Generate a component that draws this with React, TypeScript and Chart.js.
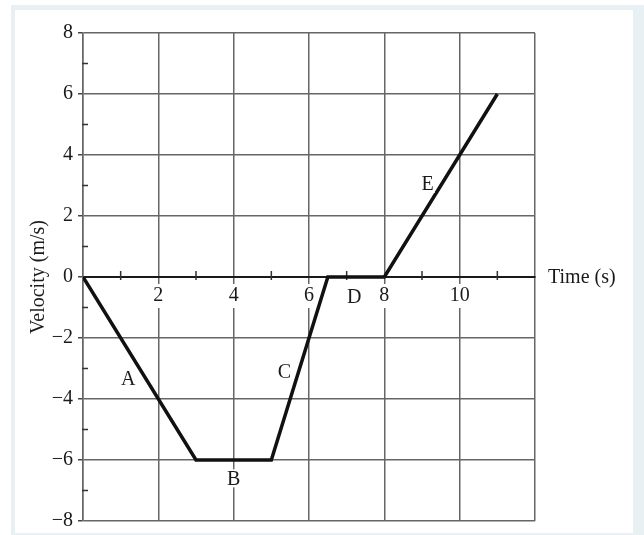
import React, { useEffect, useRef } from 'react';
import { Chart, registerables } from 'chart.js';

Chart.register(...registerables);

// Data
const times = [0, 3, 5, 6.5, 8, 11];
const velocities = [0, -6, -6, 0, 0, 6];

// Axis ranges / tick labels
const xMin = 0;
const xMax = 12;
const yMin = -8;
const yMax = 8;
const majorStep = 2;
const xAxisTitle = 'Time (s)';
const yAxisTitle = 'Velocity (m/s)';

// Segment annotations (data coordinates)
const segmentNames = ['A', 'B', 'C', 'D', 'E'];
const segmentLabelX = [1.2, 4.0, 5.35, 7.2, 9.15];
const segmentLabelY = [-3.35, -6.6, -3.1, -0.65, 3.05];

const FONT = '"Liberation Serif", "Times New Roman", serif';
const GRID = '#666666';

const annotatePlugin = {
  id: 'annotate',
  beforeDatasetsDraw(chart: any) {
    const { ctx, chartArea } = chart;
    const x = chart.scales.x;
    const y = chart.scales.y;
    const y0 = y.getPixelForValue(0);
    ctx.save();
    ctx.strokeStyle = '#333';
    ctx.lineWidth = 1.5;
    ctx.beginPath();
    for (let v = xMin + 1; v < xMax; v += majorStep) {
      const px = x.getPixelForValue(v);
      ctx.moveTo(px, y0 - 6);
      ctx.lineTo(px, y0 + 3);
    }
    for (let v = yMin + 1; v < yMax; v += majorStep) {
      const py = y.getPixelForValue(v);
      ctx.moveTo(chartArea.left - 1, py);
      ctx.lineTo(chartArea.left + 5, py);
    }
    ctx.stroke();
    ctx.restore();
  },
  afterDatasetsDraw(chart: any) {
    const { ctx, chartArea } = chart;
    const x = chart.scales.x;
    const y = chart.scales.y;
    const y0 = y.getPixelForValue(0);
    ctx.save();
    ctx.font = `20px ${FONT}`;
    ctx.textAlign = 'center';
    ctx.textBaseline = 'middle';
    segmentNames.forEach((name, i) => {
      const px = x.getPixelForValue(segmentLabelX[i]);
      const py = y.getPixelForValue(segmentLabelY[i]);
      const w = ctx.measureText(name).width;
      ctx.fillStyle = '#ffffff';
      ctx.fillRect(px - w / 2 - 1, py - 9, w + 2, 18);
      ctx.fillStyle = '#1a1a1a';
      ctx.fillText(name, px, py + 1);
    });
    ctx.textAlign = 'left';
    ctx.fillStyle = '#1a1a1a';
    ctx.fillText(xAxisTitle, chartArea.right + 13, y0 + 1);
    ctx.restore();
  },
};

function VelocityChart() {
  const canvasRef = useRef<HTMLCanvasElement | null>(null);

  useEffect(() => {
    const canvas = canvasRef.current;
    if (!canvas) return;
    const chart = new Chart(canvas, {
      type: 'line',
      data: {
        datasets: [
          {
            data: times.map((t, i) => ({ x: t, y: velocities[i] })),
            borderColor: '#111',
            borderWidth: 3.5,
            pointRadius: 0,
            tension: 0,
            fill: false,
            borderJoinStyle: 'miter',
          },
        ],
      },
      options: {
        responsive: false,
        animation: false,
        layout: { padding: { left: 0, top: 33, right: 109, bottom: 14 } },
        plugins: {
          legend: { display: false },
          tooltip: { enabled: false },
        },
        scales: {
          x: {
            type: 'linear',
            position: { y: 0 },
            min: xMin,
            max: xMax,
            grid: { color: GRID, lineWidth: 1.5, drawTicks: false },
            border: { color: '#1a1a1a', width: 2 },
            ticks: {
              stepSize: majorStep,
              autoSkip: false,
              maxRotation: 0,
              padding: 7,
              color: '#1a1a1a',
              font: { family: FONT, size: 20 },
              callback: (v: any) => (v > xMin && v < xMax ? String(v) : ''),
              showLabelBackdrop: true,
              backdropColor: (c: any) =>
                c.tick && c.tick.value > xMin && c.tick.value < xMax ? '#ffffff' : 'rgba(0,0,0,0)',
              backdropPadding: { top: 0, bottom: 0, left: 2, right: 2 },
            },
          },
          y: {
            type: 'linear',
            position: 'left',
            min: yMin,
            max: yMax,
            afterFit: (s: any) => {
              s.width = 83;
              s.paddingTop = 10;
              s.paddingBottom = 10;
            },
            grid: { color: GRID, lineWidth: 1.5, tickLength: 5, tickColor: '#444' },
            border: { color: GRID, width: 1.5 },
            ticks: {
              stepSize: majorStep,
              autoSkip: false,
              padding: 5,
              color: '#1a1a1a',
              font: { family: FONT, size: 20 },
              callback: (v: any) => (v < 0 ? '\u2212' + Math.abs(v) : String(v)),
            },
            title: {
              display: true,
              text: yAxisTitle,
              color: '#1a1a1a',
              font: { family: FONT, size: 20 },
              padding: { top: 27, bottom: 0 },
            },
          },
        },
      },
      plugins: [annotatePlugin],
    } as any);
    return () => chart.destroy();
  }, []);

  return (
    <canvas
      ref={canvasRef}
      width={644}
      height={535}
      style={{ position: 'absolute', left: 0, top: 0, width: 644, height: 535, display: 'block' }}
    />
  );
}

export default function App() {
  return (
    <div style={{ position: 'absolute', left: 0, top: 0, width: 644, height: 535, overflow: 'hidden', background: '#ffffff' }}>
      <div style={{ position: 'absolute', left: 11, top: 5, width: 633, height: 530, background: '#e8f0f3' }} />
      <div style={{ position: 'absolute', left: 15, top: 10, width: 618, height: 523, background: '#ffffff' }} />
      <VelocityChart />
    </div>
  );
}
